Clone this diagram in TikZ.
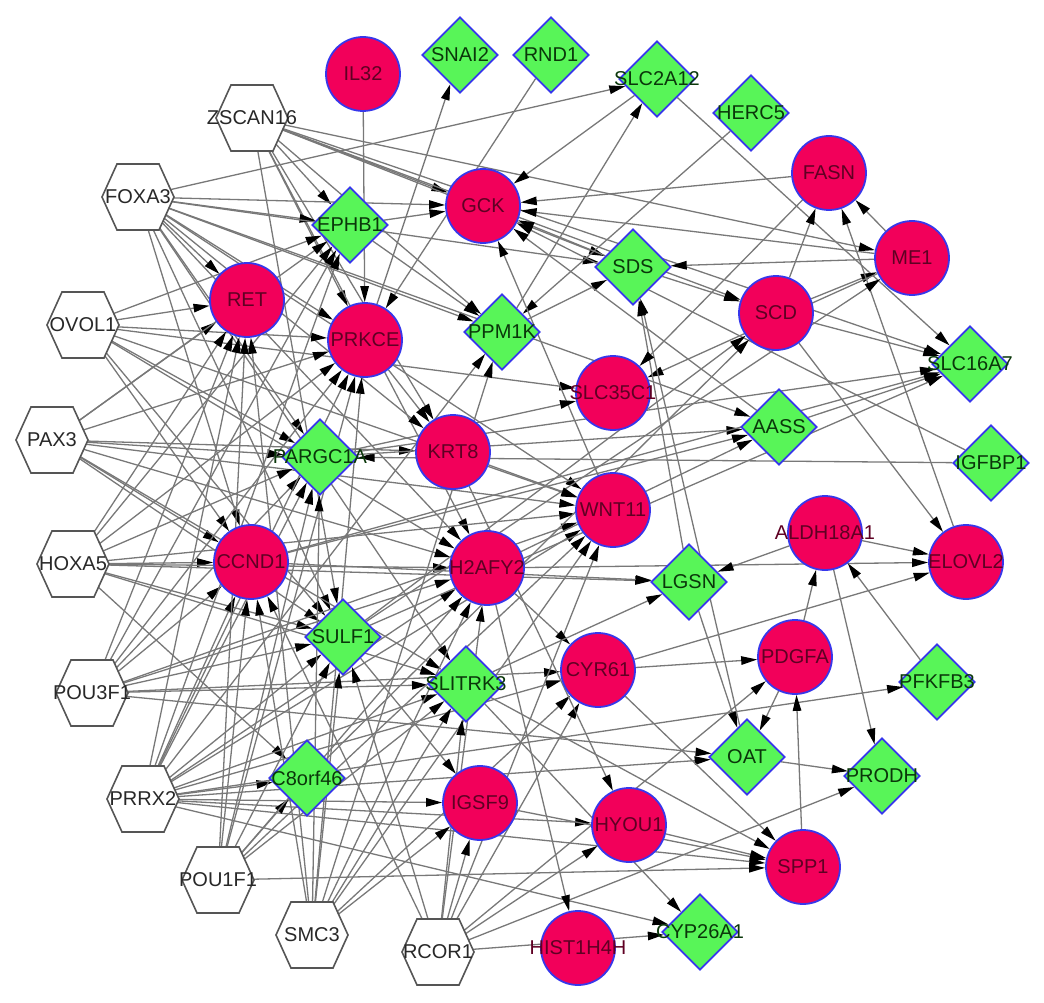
\documentclass[tikz,border=0pt]{standalone}
\usepackage{fontspec}
\setmainfont{Liberation Sans}
\usetikzlibrary{shapes.geometric,arrows.meta}
\pgfdeclarelayer{bg}
\pgfsetlayers{bg,main}
\definecolor{nred}{RGB}{242,0,90}
\definecolor{ngreen}{RGB}{88,245,88}
\definecolor{nblue}{RGB}{55,55,235}
\definecolor{egray}{RGB}{120,120,120}
\definecolor{rtext}{RGB}{95,0,35}
\definecolor{gtext}{RGB}{10,55,10}
\definecolor{htext}{RGB}{40,40,40}
\definecolor{hline}{RGB}{85,85,85}
\tikzset{
  lbl/.style={font=\fontsize{20}{24}\selectfont},
  gene/.style={lbl, circle, fill=nred, draw=nblue, line width=1.8pt, minimum size=74pt, inner sep=0pt, text=rtext},
  prot/.style={lbl, diamond, aspect=1, fill=ngreen, draw=nblue, line width=1.8pt, minimum size=76pt, inner sep=0pt, text=gtext},
  tfnode/.style={lbl, circle, minimum size=66pt, inner sep=0pt, text=htext},
  hexline/.style={draw=hline, fill=white, line width=1.6pt},
  edge/.style={draw=egray, line width=1.3pt, -{Triangle[length=16pt,width=8.5pt,color=black]}},
}
\newcommand\gn[2]{\node[gene] (#1) at (#2) {\makebox[0pt]{#1}};}
\newcommand\pn[2]{\node[prot] (#1) at (#2) {\makebox[0pt]{#1}};}
\newcommand\tf[2]{\filldraw[hexline] (#2) +(-36,0) -- +(-21,-33) -- +(21,-33) -- +(36,0) -- +(21,33) -- +(-21,33) -- cycle;
  \node[tfnode] (#1) at (#2) {\makebox[0pt]{#1}};}
\newcommand\fan[2]{\foreach \t in {#2} {\draw[edge] (#1) -- (\t);}}
\begin{document}
\begin{tikzpicture}[x=1pt,y=-1pt]
\useasboundingbox (0,0) rectangle (1044,1003);
% transcription factors
\tf{ZSCAN16}{252,118}
\tf{FOXA3}{138,197}
\tf{OVOL1}{83,325}
\tf{PAX3}{52,440}
\tf{HOXA5}{73,564}
\tf{POU3F1}{92,693}
\tf{PRRX2}{143,799}
\tf{POU1F1}{218,880}
\tf{SMC3}{312,935}
\tf{RCOR1}{438,952}
% genes (circles)
\gn{IL32}{363,74}
\gn{GCK}{483,206}
\gn{RET}{247,300}
\gn{PRKCE}{365,340}
\gn{FASN}{829,173}
\gn{ME1}{912,258}
\gn{SCD}{776,313}
\gn{SLC35C1}{613,393}
\gn{KRT8}{453,452}
\gn{WNT11}{613,510}
\gn{CCND1}{251,562}
\gn{H2AFY2}{487,568}
\gn{ALDH18A1}{825,533}
\gn{ELOVL2}{966,562}
\gn{CYR61}{598,670}
\gn{PDGFA}{795,657}
\gn{IGSF9}{480,803}
\gn{HYOU1}{629,825}
\gn{SPP1}{803,867}
\gn{HIST1H4H}{578,948}
% diamonds
\pn{SNAI2}{460,55}
\pn{RND1}{551,55}
\pn{SLC2A12}{657,79}
\pn{HERC5}{751,113}
\pn{EPHB1}{350,225}
\pn{SDS}{633,267}
\pn{PPM1K}{502,332}
\pn{SLC16A7}{970,364}
\pn{AASS}{779,427}
\pn{IGFBP1}{991,463}
\pn{PARGC1A}{320,457}
\pn{LGSN}{689,582}
\pn{SULF1}{343,637}
\pn{SLITRK3}{466,684}
\pn{PFKFB3}{937,682}
\pn{OAT}{747,757}
\pn{PRODH}{882,776}
\pn{C8orf46}{307,778}
\pn{CYP26A1}{700,932}
\begin{pgfonlayer}{bg}
\fan{ZSCAN16}{EPHB1,GCK,SDS,ME1,PPM1K,PRKCE,H2AFY2,KRT8,SLC16A7,SULF1,SCD}
\fan{FOXA3}{SLC2A12,EPHB1,RET,PRKCE,PPM1K,PARGC1A,CCND1,SULF1,H2AFY2,WNT11,SDS,KRT8,SLITRK3,GCK,AASS}
\fan{OVOL1}{RET,PARGC1A,CCND1,H2AFY2,WNT11,SLC35C1,PRKCE,SULF1,EPHB1}
\fan{PAX3}{RET,PARGC1A,CCND1,SULF1,H2AFY2,WNT11,SLITRK3,PRKCE,EPHB1,KRT8}
\fan{HOXA5}{CCND1,RET,PARGC1A,SULF1,H2AFY2,WNT11,LGSN,C8orf46,PRKCE,EPHB1,SLITRK3}
\fan{POU3F1}{CCND1,RET,PARGC1A,SULF1,H2AFY2,WNT11,SLITRK3,PRKCE,CYR61,OAT,EPHB1}
\fan{PRRX2}{CCND1,RET,PARGC1A,SULF1,C8orf46,SLITRK3,H2AFY2,WNT11,PRKCE,IGSF9,HYOU1,CYR61,EPHB1,PFKFB3,CYP26A1,SPP1,OAT,PPM1K}
\fan{POU1F1}{CCND1,SULF1,PARGC1A,SLITRK3,C8orf46,H2AFY2,WNT11,RET,SPP1,PRKCE}
\fan{SMC3}{SULF1,SLITRK3,CCND1,PARGC1A,H2AFY2,WNT11,IGSF9,PPM1K,PRKCE,RET,CYR61}
\fan{RCOR1}{SLITRK3,IGSF9,HYOU1,CYP26A1,SULF1,CCND1,WNT11,H2AFY2,PRODH,CYR61,PDGFA}
\foreach \s/\t in {IL32/PRKCE, PRKCE/SNAI2, SLC2A12/GCK, PPM1K/SLC2A12, SLC2A12/SLC16A7,
  RND1/PRKCE, HERC5/PPM1K, ME1/SDS, ME1/GCK, ME1/FASN, SCD/ME1, SCD/FASN, ELOVL2/FASN,
  FASN/GCK, SCD/SLC16A7, AASS/SLC16A7, ME1/SLC35C1, SCD/ELOVL2, ALDH18A1/ELOVL2,
  H2AFY2/ELOVL2, CYR61/ELOVL2, ALDH18A1/LGSN, ALDH18A1/PRODH, PFKFB3/ALDH18A1,
  PDGFA/ALDH18A1, SPP1/PDGFA, CYR61/PDGFA, PDGFA/OAT, LGSN/OAT, OAT/PRODH, CYR61/SPP1,
  HYOU1/SPP1, IGSF9/SPP1, SLITRK3/SPP1, SLITRK3/CYP26A1, H2AFY2/HIST1H4H,
  IGFBP1/PARGC1A, IGFBP1/GCK, EPHB1/GCK, PPM1K/SDS, OAT/SDS, LGSN/SDS, EPHB1/PPM1K,
  PRKCE/KRT8, KRT8/HYOU1, H2AFY2/CYR61, SULF1/IGSF9, PARGC1A/AASS, SDS/SCD, SULF1/SCD,
  CCND1/AASS, WNT11/GCK, PARGC1A/SLC35C1, SULF1/ME1, PARGC1A/SLC16A7, CCND1/SLC16A7,
  SULF1/SLC16A7, H2AFY2/AASS, KRT8/WNT11, SLITRK3/LGSN, CCND1/LGSN, C8orf46/SCD,
  FASN/SLC35C1, AASS/GCK, SDS/GCK}
  \draw[edge] (\s) -- (\t);
\end{pgfonlayer}
\end{tikzpicture}
\end{document}
